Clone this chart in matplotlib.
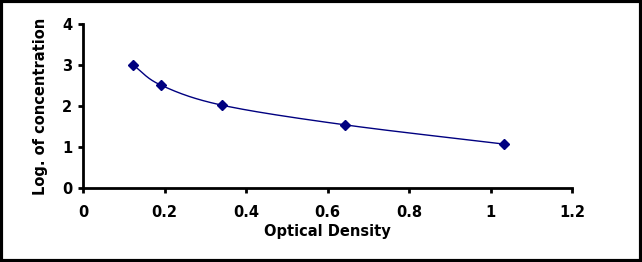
import numpy as np
import matplotlib
matplotlib.use("Agg")
import matplotlib.pyplot as plt
from matplotlib.patches import Rectangle

od = [0.123, 0.191, 0.341, 0.643, 1.034]
logc = [3.00, 2.51, 2.02, 1.54, 1.07]
xticks = [0, 0.2, 0.4, 0.6, 0.8, 1.0, 1.2]
xticklabels = ["0", "0.2", "0.4", "0.6", "0.8", "1", "1.2"]
yticks = [0, 1, 2, 3, 4]

plt.rcParams['font.family'] = ['DejaVu Sans']
plt.rcParams['font.weight'] = 'bold'

def catmull_rom(xs, ys, n=40):
    P = np.column_stack([xs, ys])
    P = np.vstack([2*P[0]-P[1], P, 2*P[-1]-P[-2]])
    out = []
    for i in range(1, len(P)-2):
        p0, p1, p2, p3 = P[i-1], P[i], P[i+1], P[i+2]
        t = np.linspace(0, 1, n)[:, None]
        seg = 0.5*((2*p1) + (-p0+p2)*t + (2*p0-5*p1+4*p2-p3)*t**2 + (-p0+3*p1-3*p2+p3)*t**3)
        out.append(seg if i == len(P)-3 else seg[:-1])
    S = np.vstack(out)
    return S[:, 0], S[:, 1]

fig = plt.figure(figsize=(6.42, 2.62), dpi=100)
ax = fig.add_axes([83/642, 1-188/262, (572-83)/642, (188-24)/262])

sx, sy = catmull_rom(od, logc)
ax.plot(sx, sy, color='#000080', lw=1.0)
ax.plot(od, logc, linestyle='none', marker='D', markersize=5, color='#000080')

ax.set_xlim(0, 1.2)
ax.set_ylim(0, 4)
ax.set_xticks(xticks)
ax.set_xticklabels(xticklabels)
ax.set_yticks(yticks)
for s in ['top', 'right']:
    ax.spines[s].set_visible(False)
for s in ['left', 'bottom']:
    ax.spines[s].set_linewidth(2)
ax.tick_params(direction='out', length=3.6, width=2, labelsize=10.5)
ax.tick_params(axis='x', pad=8.5)
ax.tick_params(axis='y', pad=4)
for lbl in ax.get_xticklabels() + ax.get_yticklabels():
    lbl.set_fontweight('bold')
ax.set_xlabel('Optical Density', fontsize=10.5, fontweight='bold', labelpad=3)
ax.set_ylabel('Log. of concentration', fontsize=10.5, fontweight='bold', labelpad=10)

fig.patches.append(Rectangle((0.002, 0.004), 0.996, 0.992, transform=fig.transFigure,
                             fill=False, edgecolor='black', linewidth=3))

fig.savefig('out.png', dpi=100)
